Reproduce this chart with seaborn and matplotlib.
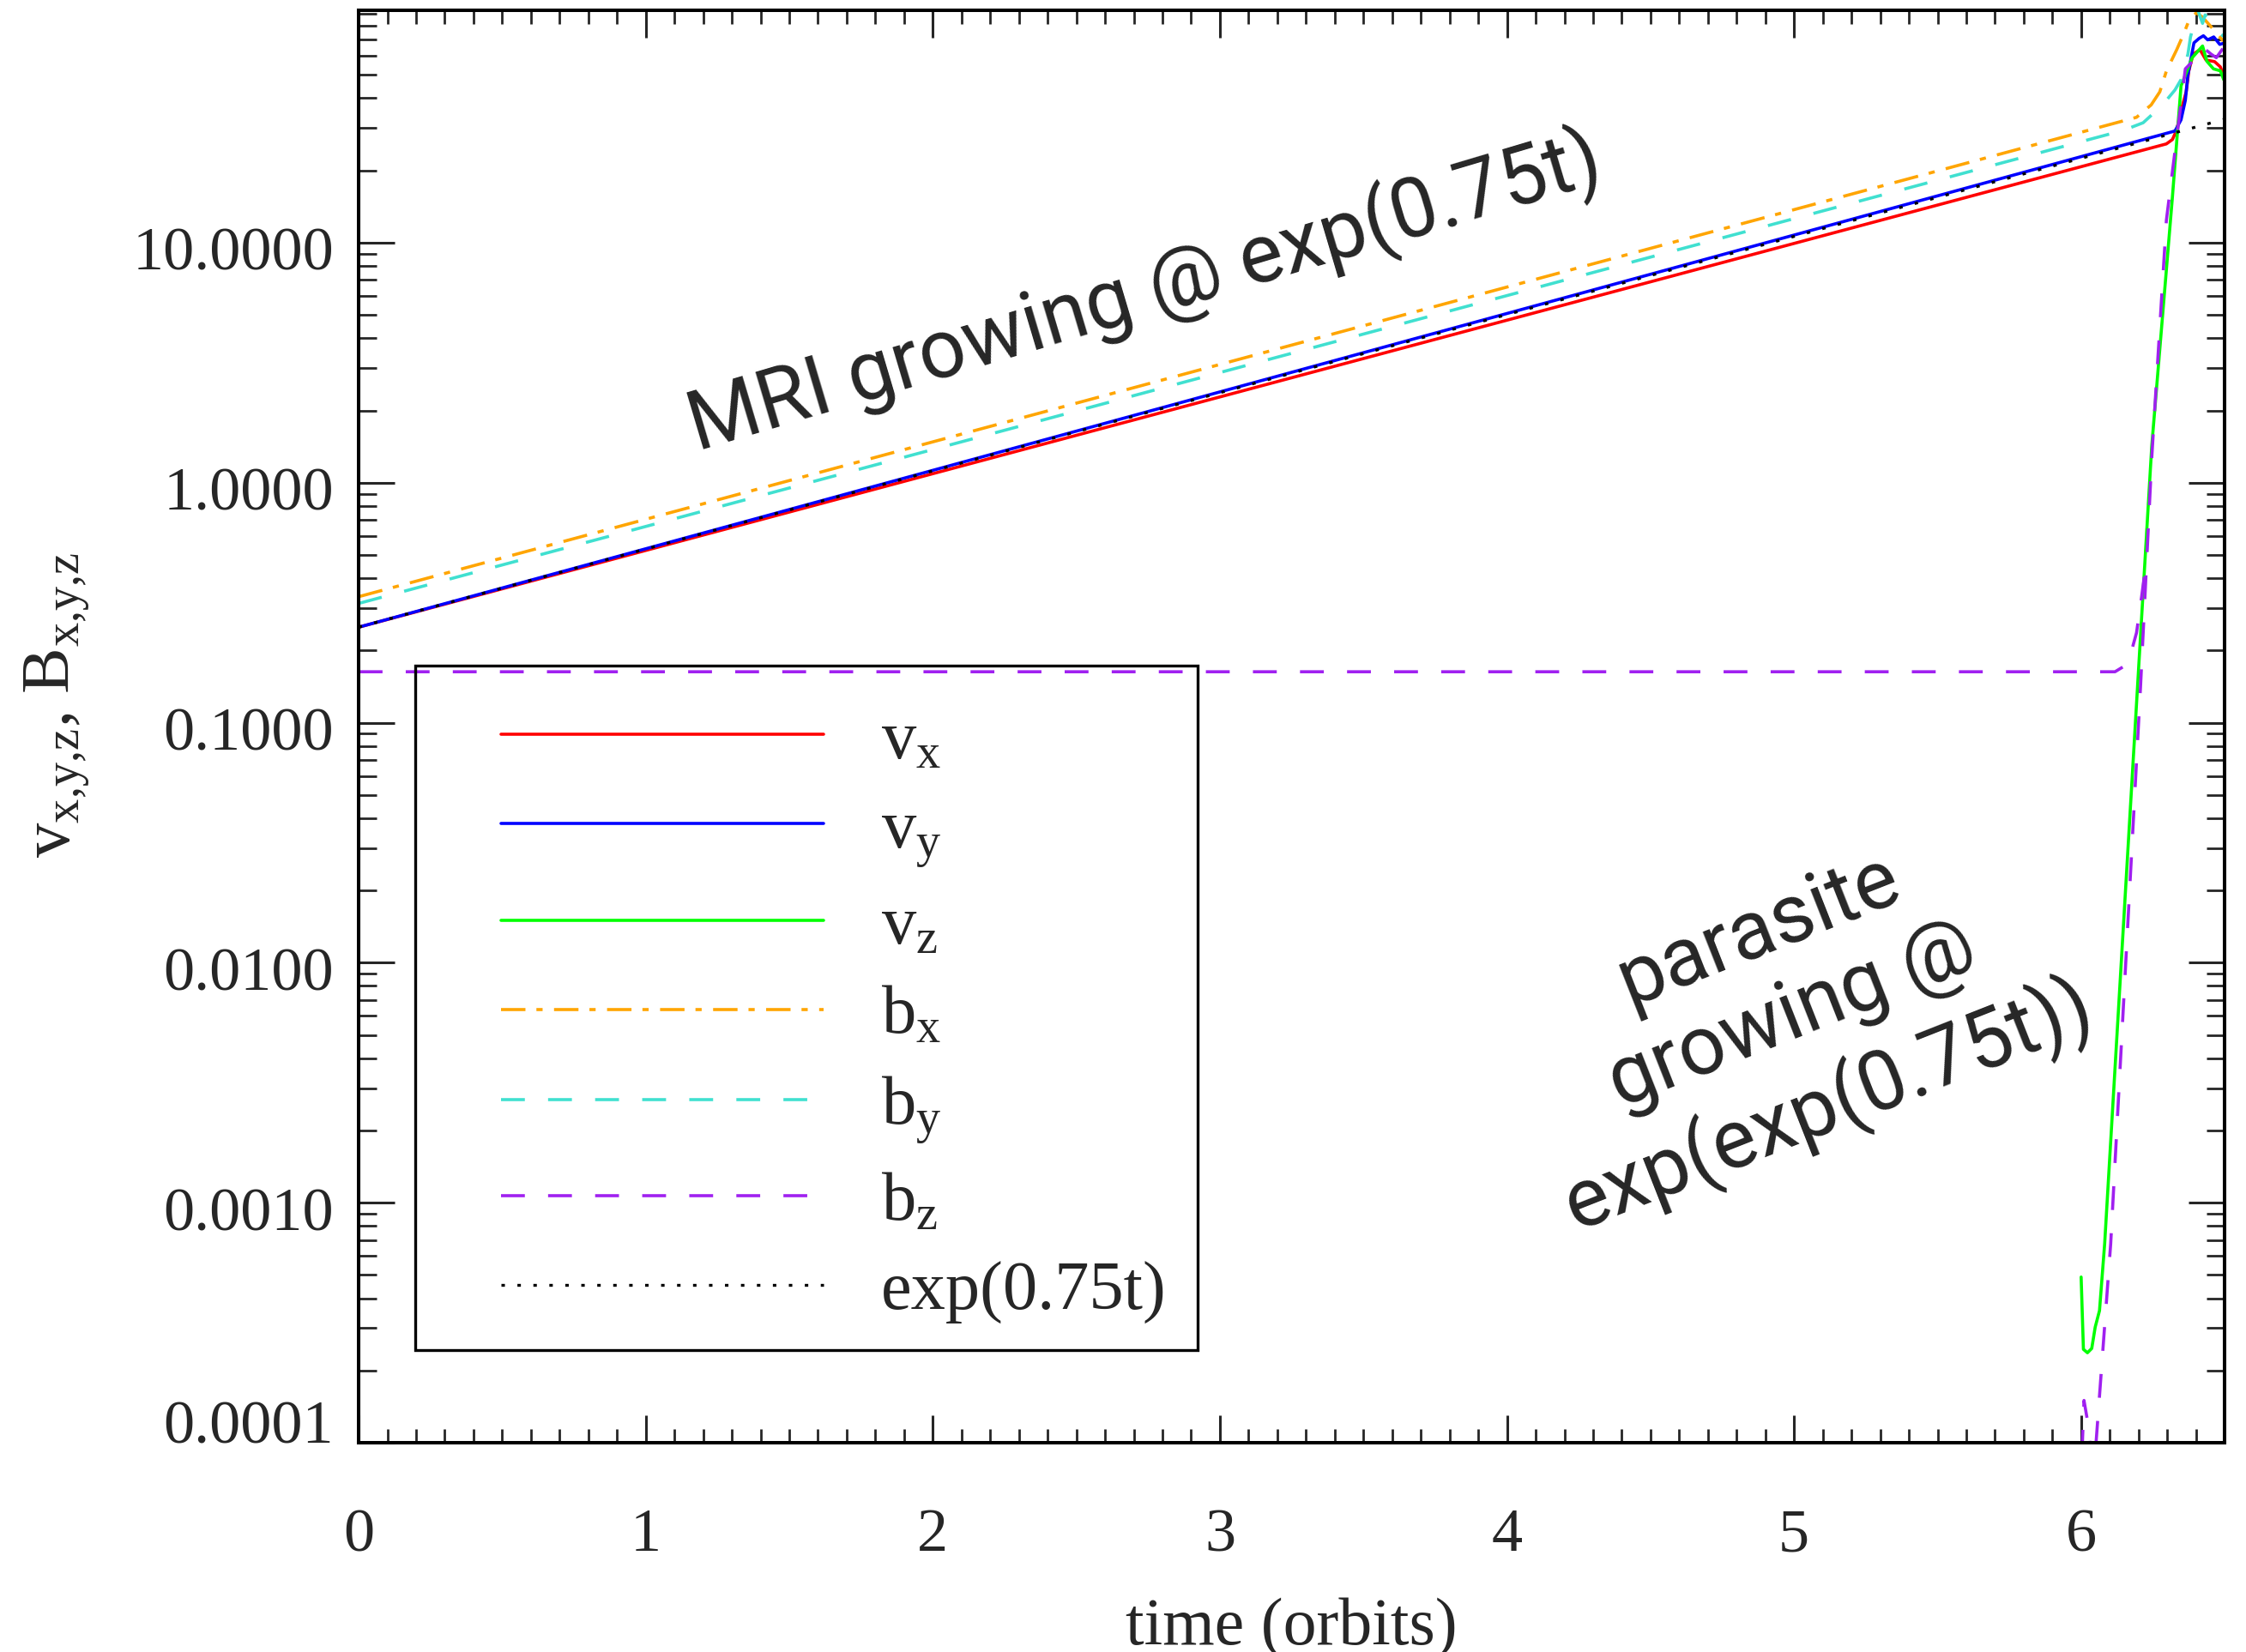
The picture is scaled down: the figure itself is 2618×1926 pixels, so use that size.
import numpy as np
import pandas as pd
import matplotlib
matplotlib.use("Agg")
import matplotlib.pyplot as plt
import matplotlib.transforms as mtransforms
import seaborn as sns
from matplotlib.ticker import MultipleLocator, LogLocator, FuncFormatter, NullFormatter
from matplotlib.lines import Line2D
from matplotlib.patches import Rectangle

# ---------------- data ----------------
vx_t = [0.0, 6.297, 6.318, 6.333, 6.345, 6.366, 6.375, 6.390, 6.414, 6.435, 6.465, 6.485, 6.500]
vx_v = [0.25, 25.8, 26.9, 29.5, 34.4, 42.5, 51.9, 61.0, 63.7, 57.7, 56.8, 54.0, 48.2]

vy_t = [0.0, 6.327, 6.348, 6.363, 6.372, 6.393, 6.411, 6.426, 6.441, 6.462, 6.483, 6.500]
vy_v = [0.25, 29.2, 32.5, 39.2, 50.0, 68.0, 71.0, 72.8, 70.0, 72.0, 67.0, 68.0]

vz_t = [6.000, 6.008, 6.022, 6.037, 6.049, 6.064, 6.082, 6.193, 6.246, 6.318, 6.348,
        6.387, 6.423, 6.438, 6.461, 6.485, 6.497]
vz_v = [4.9e-4, 2.45e-4, 2.37e-4, 2.47e-4, 3.03e-4, 3.55e-4, 6.75e-4, 0.12, 1.42, 15.5, 45.0,
        59.0, 66.0, 57.0, 53.0, 52.0, 47.7]

bx_t = [0.0, 6.193, 6.244, 6.274, 6.297, 6.333, 6.357, 6.378, 6.402, 6.423, 6.471, 6.500]
bx_v = [0.335, 33.3, 37.5, 42.5, 51.9, 63.7, 74.0, 85.7, 90.8, 87.0, 75.0, 68.0]

by_t = [0.0, 6.148, 6.216, 6.282, 6.327, 6.348, 6.372, 6.381, 6.402, 6.408, 6.423, 6.432,
        6.471, 6.485, 6.500]
by_v = [0.314, 29.4, 31.6, 37.3, 43.3, 47.8, 61.0, 72.0, 89.0, 92.0, 82.0, 89.0,
        78.0, 74.0, 72.0]

bz_mean_t = [0.0, 6.118, 6.150, 6.172, 6.193, 6.210, 6.225]
bz_mean_v = [0.163, 0.163, 0.172, 0.192, 0.237, 0.33, 0.45]

bz_pert_t = [6.003, 6.010, 6.025, 6.036, 6.045, 6.052, 6.103, 6.207, 6.246, 6.297, 6.318,
             6.363, 6.393, 6.423, 6.453, 6.471, 6.492, 6.500]
bz_pert_v = [0.9e-4, 1.5e-4, 1.18e-4, 0.85e-4, 0.8e-4, 1.0e-4, 6.75e-4, 0.142, 1.27, 12.4, 19.8,
             53.0, 57.7, 65.3, 61.0, 59.0, 64.0, 66.4]

ref_t = [0.0, 6.5]
ref_v = [0.25, 32.7]

series_labels = [r'$\mathrm{v_x}$', r'$\mathrm{v_y}$', r'$\mathrm{v_z}$',
                 r'$\mathrm{b_x}$', r'$\mathrm{b_y}$', r'$\mathrm{b_z}$', 'exp(0.75t)']
y_ticks = [1e-4, 1e-3, 1e-2, 1e-1, 1.0, 10.0]
x_ticks = [0, 1, 2, 3, 4, 5, 6]

# ---------------- style ----------------
sns.set_style("white")
plt.rcParams['font.family'] = ['Liberation Serif', 'DejaVu Serif']
plt.rcParams['mathtext.fontset'] = 'custom'
plt.rcParams['mathtext.rm'] = 'Liberation Serif'
plt.rcParams['mathtext.it'] = 'Liberation Serif:italic'
plt.rcParams['lines.scale_dashes'] = False

colors = ['#FF0000', '#0000FF', '#00FF00', '#FFA500', '#40E0D0', '#A020F0', '#000000']
dashed = (0, (20, 19.5))
styles = ['-', '-', '-', (0, (20.5, 9.2, 5.2, 9.6)), dashed, dashed, (0, (2.9, 10.5))]
lws = [2.6, 2.6, 2.6, 2.6, 2.6, 2.6, 2.4]

segments = [
    (0, vx_t, vx_v), (1, vy_t, vy_v), (2, vz_t, vz_v), (3, bx_t, bx_v),
    (4, by_t, by_v), (5, bz_mean_t, bz_mean_v), (5, bz_pert_t, bz_pert_v), (6, ref_t, ref_v),
]

fig = plt.figure(figsize=(26.18, 19.26), dpi=100)
ax = fig.add_axes([0.1597, 0.1267, 0.8308, 0.8671])
ax.set_yscale('log')

for idx, tt, vv in segments:
    df = pd.DataFrame({'t': tt, 'v': vv})
    sns.lineplot(data=df, x='t', y='v', ax=ax, color=colors[idx], linestyle=styles[idx],
                 linewidth=lws[idx], estimator=None, sort=False, legend=False)

ax.set_xlim(0, 6.5)
ax.xaxis.set_major_locator(MultipleLocator(1))
ax.xaxis.set_minor_locator(MultipleLocator(0.1))
ax.set_xticks(x_ticks)
ax.set_xticklabels([str(x) for x in x_ticks])
ax.yaxis.set_major_locator(LogLocator(base=10))
ax.yaxis.set_minor_locator(LogLocator(base=10, subs=np.arange(2, 10)))
ax.yaxis.set_minor_formatter(NullFormatter())
ax.set_yticks(y_ticks)
ax.yaxis.set_major_formatter(FuncFormatter(lambda v, p: f'{v:.4f}'))
ax.set_ylim(1e-4, 93)

ax.tick_params(axis='x', which='major', direction='in', length=23, width=2.2,
               top=True, bottom=True, pad=55, labelsize=52)
ax.tick_params(axis='x', which='minor', direction='in', length=11.5, width=2.0, top=True, bottom=True)
ax.tick_params(axis='y', which='major', direction='in', length=30, width=2.2,
               left=True, right=True, pad=21, labelsize=52)
ax.tick_params(axis='y', which='minor', direction='in', length=15, width=2.0, left=True, right=True)
for s in ax.spines.values():
    s.set_linewidth(2.9)
    s.set_color('black')

# IDL-like vertical placement of the y tick labels (bottom one lifted inside)
for i, tick in enumerate(ax.yaxis.get_major_ticks()):
    dy = 0.24 if i == 0 else -0.07
    off = mtransforms.ScaledTranslation(0, dy, fig.dpi_scale_trans)
    tick.label1.set_transform(tick.label1.get_transform() + off)

ax.set_xlabel('time (orbits)', fontsize=56)
ax.xaxis.set_label_coords(0.5, -0.108)
ax.set_ylabel(r'$\mathrm{v_{x{,}y{,}z}{,}\ B_{x{,}y{,}z}}$', fontsize=58)
ax.yaxis.set_label_coords(-0.143, 0.515)

# legend
handles = [Line2D([], [], color=colors[i], linestyle=styles[i], linewidth=lws[i]) for i in range(7)]
leg = ax.legend(handles, series_labels, loc='center left', bbox_to_anchor=(0.0763, 0.297),
                frameon=False, fontsize=58, handlelength=4.67, handletextpad=0.83,
                labelspacing=0.38, borderpad=0, borderaxespad=0)
ax.add_patch(Rectangle((0.0303, 0.0647), 0.4194, 0.4778, transform=ax.transAxes,
                       fill=False, edgecolor='black', linewidth=2.4, zorder=5))

# annotations
ann_font = dict(family=['Roboto', 'Liberation Sans', 'DejaVu Sans'], weight='normal')
ax.text(2.74, 6.2, 'MRI growing @ exp(0.75t)', fontsize=69, rotation=16.6,
        rotation_mode='anchor', ha='center', va='center', **ann_font)
ax.text(5.0, 5.8e-3, 'parasite\ngrowing @\nexp(exp(0.75t))', fontsize=69, rotation=21.5,
        rotation_mode='anchor', ha='center', va='center', multialignment='center',
        linespacing=1.2, **ann_font)

fig.savefig('out.png', dpi=100)
